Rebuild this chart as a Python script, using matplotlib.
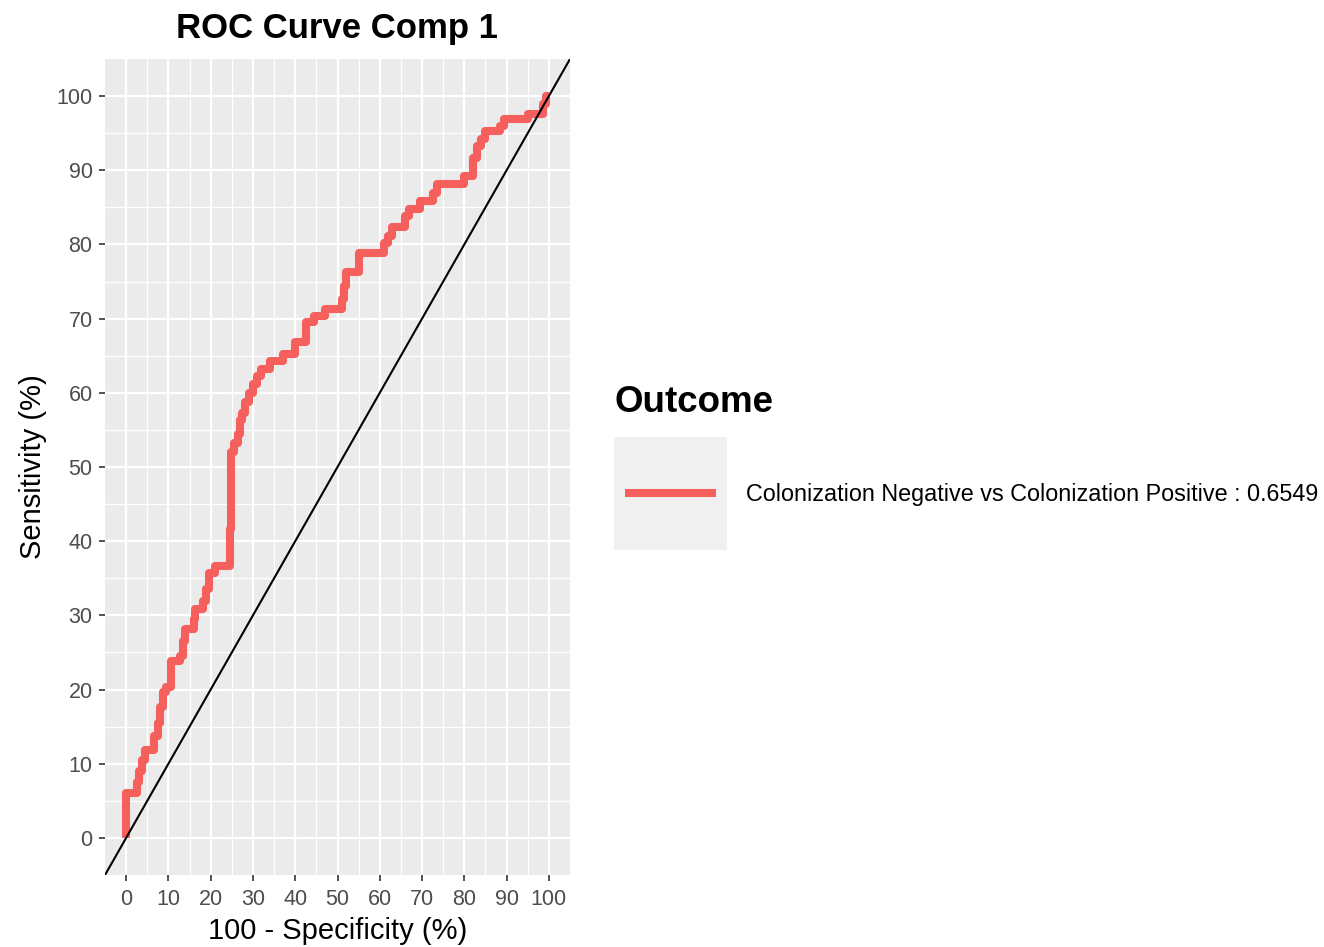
import matplotlib
matplotlib.use("Agg")
import matplotlib.pyplot as plt
from matplotlib.patches import Rectangle
from matplotlib.lines import Line2D

plt.rcParams['font.family'] = ['Liberation Sans', 'DejaVu Sans']

# ROC points: 100 - specificity (%) and sensitivity (%)
fpr = [0, 0, 2.5, 3, 3.7, 4.5, 6.5, 7.5, 8, 8.8, 9.5, 10.5, 12.8, 13.5, 14,
       16, 16.4, 18.3, 19, 19.5, 21, 24.6, 24.8, 25.5, 26.5, 27, 27.4, 28,
       29, 30, 31, 32, 34, 37, 40, 42.5, 44.5, 47, 51, 51.5, 52, 55, 61, 62,
       63, 66, 67, 69.5, 72.5, 73.5, 80, 82, 83, 84, 85, 88.5, 89.5, 95,
       98.5, 99.3, 100]
tpr = [0, 6, 7.5, 9, 10.5, 11.9, 13.7, 15.5, 17.7, 19.7, 20.4, 23.8, 24.5,
       26.5, 28.1, 29.5, 30.8, 32, 33.5, 35.7, 36.6, 41.6, 52, 53.3, 54.4,
       56.4, 57.3, 58.7, 60, 61.2, 62.3, 63.2, 64.3, 65.3, 66.8, 69.5, 70.4,
       71.3, 72.6, 74.4, 76.3, 78.9, 80.2, 81.1, 82.3, 83.9, 84.8, 85.9, 87,
       88.2, 89.2, 91.7, 93.3, 94.2, 95.3, 96, 96.9, 97.6, 98.9, 100, 100]

auc_label = "Colonization Negative vs Colonization Positive : 0.6549"
ticks = list(range(0, 101, 10))
minor = list(range(5, 100, 10))

red = '#F55F5C'

fig = plt.figure(figsize=(13.24, 9.47), dpi=100)
ax = fig.add_axes([105/1324, 72/947, 465/1324, 816/947])
ax.set_facecolor('#EBEBEB')

ax.step(fpr, tpr, where='post', color=red, lw=5.8,
        solid_joinstyle='round', solid_capstyle='butt', zorder=3)
ax.axline((0, 0), slope=1, color='black', lw=1.5, zorder=4)

ax.set_xlim(-5, 105)
ax.set_ylim(-5, 105)
ax.set_xticks(ticks)
ax.set_yticks(ticks)
ax.set_xticks(minor, minor=True)
ax.set_yticks(minor, minor=True)
ax.grid(True, which='major', color='white', lw=1.6, zorder=1)
ax.grid(True, which='minor', color='white', lw=0.9, zorder=1)
ax.set_axisbelow(True)
for s in ax.spines.values():
    s.set_visible(False)
ax.tick_params(which='major', length=4, width=1.2, color='#333333',
               labelcolor='#4D4D4D', labelsize=15.5)
ax.tick_params(axis='x', which='major', pad=6)
ax.tick_params(axis='y', which='major', pad=5)
ax.tick_params(which='minor', length=0)

ax.set_xlabel('100 - Specificity (%)', fontsize=21, labelpad=5)
ax.set_ylabel('Sensitivity (%)', fontsize=21, labelpad=7)
ax.set_title('ROC Curve Comp 1', fontsize=25, fontweight='bold', pad=15)

# legend drawn by hand in figure pixels
W, H = 1324, 947
fig.text(614/W, 1 - 403/H, 'Outcome', fontsize=26.5, fontweight='bold', va='center', ha='left')
fig.add_artist(Rectangle((614/W, 1 - 550/H), 113/W, 113/H, transform=fig.transFigure,
                         facecolor='#F0F0F0', edgecolor='none'))
fig.add_artist(Line2D([625/W, 716/W], [1 - 493/H, 1 - 493/H], transform=fig.transFigure,
                      color=red, lw=5.8, solid_capstyle='butt'))
fig.text(746/W, 1 - 494/H, auc_label, fontsize=16.8, va='center', ha='left')

fig.savefig('out.png', dpi=100)
